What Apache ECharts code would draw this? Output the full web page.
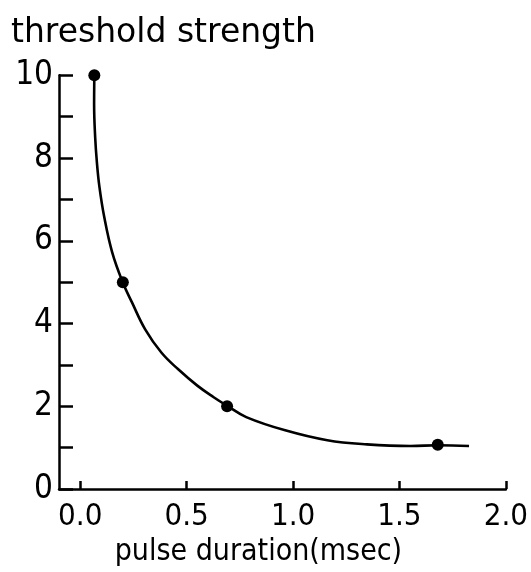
<!DOCTYPE html>
<html>
<head>
<meta charset="utf-8">
<style>
  html, body { margin: 0; padding: 0; background: #fff; }
  #chart { width: 531px; height: 572px; }
</style>
<script src="https://cdn.jsdelivr.net/npm/echarts@6/dist/echarts.min.js"></script>
</head>
<body>
<div id="chart"></div>
<script>
// Strength-duration curve: fitted line through the measured thresholds
const curveX = [0.066, 0.065, 0.070, 0.078, 0.090, 0.112, 0.150, 0.200, 0.243, 0.305, 0.381, 0.459, 0.550, 0.627, 0.688, 0.780, 0.963, 1.161, 1.347, 1.553, 1.682, 1.827];
const curveY = [10.0, 9.30, 8.50, 7.90, 7.30, 6.59, 5.72, 4.99, 4.51, 3.86, 3.30, 2.90, 2.50, 2.22, 2.02, 1.74, 1.42, 1.18, 1.08, 1.04, 1.06, 1.04];

// Measured points (pulse duration in msec, threshold strength)
const dotX = [0.066, 0.20, 0.69, 1.68];
const dotY = [10.0, 5.0, 2.0, 1.07];

// Axis tick values
const xTickValues = [0, 0.5, 1.0, 1.5, 2.0];
const yLabelValues = [0, 2, 4, 6, 8, 10];

const titleText = 'threshold strength';
const xName = 'pulse duration(msec)';

const ink = '#000';
const labelFont = '"DejaVu Sans Condensed", "Liberation Sans Narrow", Roboto, sans-serif';
const chart = echarts.init(document.getElementById('chart'), null, { renderer: 'canvas' });

chart.setOption({
  animation: false,
  backgroundColor: '#fff',
  title: {
    text: titleText,
    left: 11,
    top: 17,
    padding: 0,
    textStyle: {
      fontFamily: 'DejaVu Sans',
      fontSize: 33,
      fontWeight: 'normal',
      color: ink
    }
  },
  grid: {
    left: 59,
    right: 24,
    top: 75.2,
    bottom: 81.5,
    containLabel: false
  },
  xAxis: {
    type: 'value',
    min: -0.1,
    max: 2.0,
    name: xName,
    nameLocation: 'middle',
    nameGap: 41,
    nameTextStyle: {
      fontFamily: labelFont,
      fontSize: 30,
      color: ink,
      padding: [0, 48, 0, 0]
    },
    splitLine: { show: false },
    axisLine: { show: true, onZero: false, lineStyle: { color: ink, width: 2.5 } },
    axisTick: {
      show: true,
      inside: true,
      length: 8,
      customValues: xTickValues,
      lineStyle: { color: ink, width: 2.5 }
    },
    axisLabel: {
      customValues: xTickValues,
      margin: 12,
      fontFamily: labelFont,
      fontSize: 31,
      color: ink,
      formatter: v => v.toFixed(1)
    }
  },
  yAxis: {
    type: 'value',
    min: 0,
    max: 10,
    interval: 1,
    splitLine: { show: false },
    axisLine: { show: true, onZero: false, lineStyle: { color: ink, width: 2.5 } },
    axisTick: {
      show: true,
      inside: true,
      length: 14,
      lineStyle: { color: ink, width: 2.5 }
    },
    axisLabel: {
      customValues: yLabelValues,
      margin: 6,
      fontFamily: labelFont,
      fontSize: 33,
      color: ink
    }
  },
  series: [
    {
      type: 'line',
      data: curveX.map((x, i) => [x, curveY[i]]),
      smooth: 0.4,
      showSymbol: false,
      symbol: 'none',
      lineStyle: { color: ink, width: 2.6 },
      z: 2
    },
    {
      type: 'scatter',
      data: dotX.map((x, i) => [x, dotY[i]]),
      symbol: 'circle',
      symbolSize: 12,
      itemStyle: { color: ink, opacity: 1 },
      z: 3
    }
  ]
});
</script>
</body>
</html>
